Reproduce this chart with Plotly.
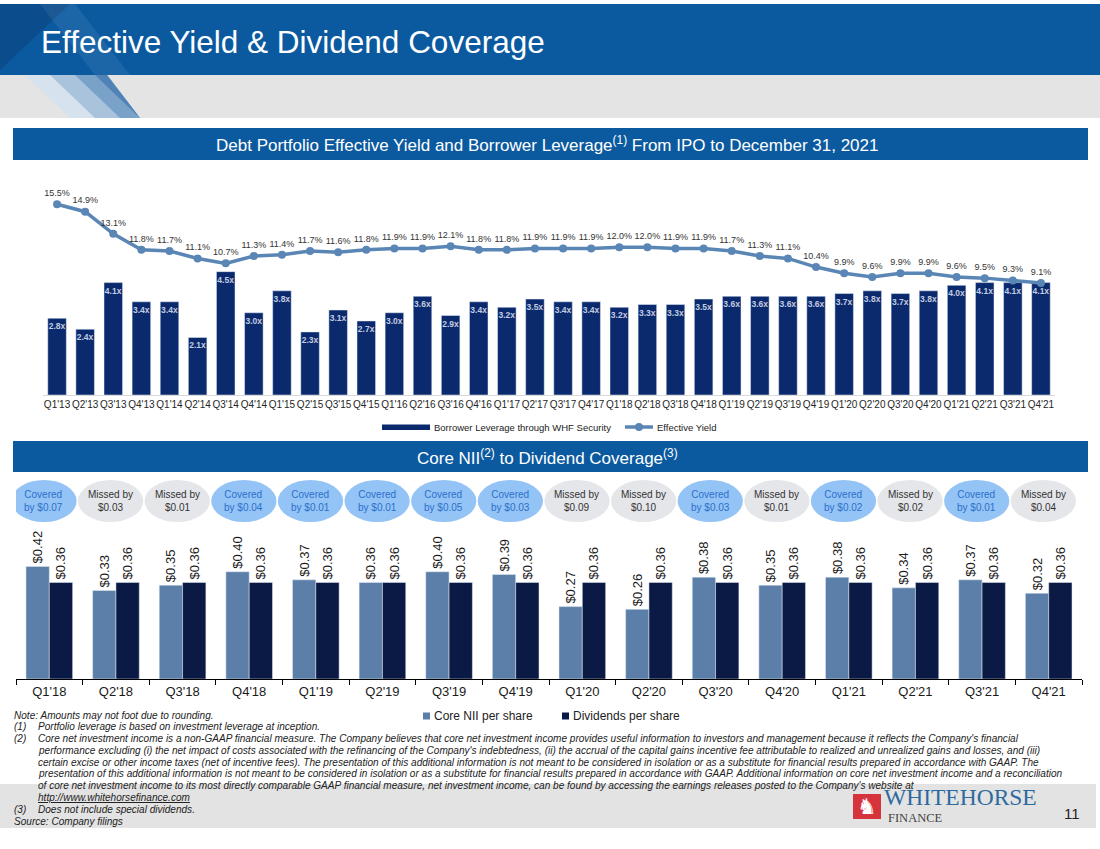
import plotly.graph_objects as go

# ---- data -------------------------------------------------------------
quarters_top = [
    "Q1'13", "Q2'13", "Q3'13", "Q4'13", "Q1'14", "Q2'14", "Q3'14", "Q4'14",
    "Q1'15", "Q2'15", "Q3'15", "Q4'15", "Q1'16", "Q2'16", "Q3'16", "Q4'16",
    "Q1'17", "Q2'17", "Q3'17", "Q4'17", "Q1'18", "Q2'18", "Q3'18", "Q4'18",
    "Q1'19", "Q2'19", "Q3'19", "Q4'19", "Q1'20", "Q2'20", "Q3'20", "Q4'20",
    "Q1'21", "Q2'21", "Q3'21", "Q4'21",
]
borrower_leverage = [
    2.8, 2.4, 4.1, 3.4, 3.4, 2.1, 4.5, 3.0,
    3.8, 2.3, 3.1, 2.7, 3.0, 3.6, 2.9, 3.4,
    3.2, 3.5, 3.4, 3.4, 3.2, 3.3, 3.3, 3.5,
    3.6, 3.6, 3.6, 3.6, 3.7, 3.8, 3.7, 3.8,
    4.0, 4.1, 4.1, 4.1,
]
effective_yield = [
    15.5, 14.9, 13.1, 11.8, 11.7, 11.1, 10.7, 11.3,
    11.4, 11.7, 11.6, 11.8, 11.9, 11.9, 12.1, 11.8,
    11.8, 11.9, 11.9, 11.9, 12.0, 12.0, 11.9, 11.9,
    11.7, 11.3, 11.1, 10.4, 9.9, 9.6, 9.9, 9.9,
    9.6, 9.5, 9.3, 9.1,
]

quarters_bottom = [
    "Q1'18", "Q2'18", "Q3'18", "Q4'18", "Q1'19", "Q2'19", "Q3'19", "Q4'19",
    "Q1'20", "Q2'20", "Q3'20", "Q4'20", "Q1'21", "Q2'21", "Q3'21", "Q4'21",
]
core_nii = [0.42, 0.33, 0.35, 0.40, 0.37, 0.36, 0.40, 0.39,
            0.27, 0.26, 0.38, 0.35, 0.38, 0.34, 0.37, 0.32]
dividends = [0.36, 0.36, 0.36, 0.36, 0.36, 0.36, 0.36, 0.36,
             0.36, 0.36, 0.36, 0.36, 0.36, 0.36, 0.36, 0.36]
coverage_status = ["Covered", "Missed", "Missed", "Covered", "Covered", "Covered",
                   "Covered", "Covered", "Missed", "Missed", "Covered", "Missed",
                   "Covered", "Missed", "Covered", "Missed"]
coverage_amount = ["$0.07", "$0.03", "$0.01", "$0.04", "$0.01", "$0.01",
                   "$0.05", "$0.03", "$0.09", "$0.10", "$0.03", "$0.01",
                   "$0.02", "$0.02", "$0.01", "$0.04"]

footnotes = [
    ("", "Note: Amounts may not foot due to rounding."),
    ("(1)", "Portfolio leverage is based on investment leverage at inception."),
    ("(2)", "Core net investment income is a non-GAAP financial measure. The Company believes that core net investment income provides useful information to investors and management because it reflects the Company's financial"),
    ("", "performance excluding (i) the net impact of costs associated with the refinancing of the Company's indebtedness, (ii) the accrual of the capital gains incentive fee attributable to realized and unrealized gains and losses, and (iii)"),
    ("", "certain excise or other income taxes (net of incentive fees). The presentation of this additional information is not meant to be considered in isolation or as a substitute for financial results prepared in accordance with GAAP. The"),
    ("", "presentation of this additional information is not meant to be considered in isolation or as a substitute for financial results prepared in accordance with GAAP. Additional information on core net investment income and a reconciliation"),
    ("", "of core net investment income to its most directly comparable GAAP financial measure, net investment income, can be found by accessing the earnings releases posted to the Company's website at"),
    ("", "<span style='text-decoration:underline'>http://www.whitehorsefinance.com</span>"),
    ("(3)", "Does not include special dividends."),
    ("", "Source: Company filings"),
]

# ---- styling ----------------------------------------------------------
W, H = 1100, 849
FONT = "Arial, Liberation Sans, sans-serif"
HEADER_BLUE = "#0b5aa0"
NAVY = "#0b2a6e"
LINE_BLUE = "#5a86b6"
NII_BLUE = "#5b7fa8"
DIV_NAVY = "#0a1a44"


def X(px):
    return px / W


def Y(py):
    return 1 - py / H


fig = go.Figure()

# top chart: leverage bars + yield line
fig.add_trace(go.Bar(
    x=quarters_top, y=borrower_leverage, xaxis="x", yaxis="y",
    marker_color=NAVY, width=0.66,
    texttemplate="<b>%{y:.1f}x</b>", textposition="inside", textangle=0,
    insidetextanchor="end", constraintext="none",
    textfont=dict(size=8.5, color="#c3cce0", family=FONT),
    name="Borrower Leverage through WHF Security",
))
fig.add_trace(go.Scatter(
    x=quarters_top, y=effective_yield, xaxis="x", yaxis="y2",
    mode="lines+markers+text", line=dict(color=LINE_BLUE, width=3.5),
    marker=dict(size=8, color=LINE_BLUE),
    texttemplate="%{y:.1f}%", textposition="top center",
    textfont=dict(size=9, color="#333333", family=FONT),
    cliponaxis=False, name="Effective Yield",
))

# bottom chart: core NII vs dividends
fig.add_trace(go.Bar(
    x=quarters_bottom, y=core_nii, xaxis="x3", yaxis="y3",
    marker_color=NII_BLUE, texttemplate="$%{y:.2f}", textposition="outside",
    textangle=-90, constraintext="none", cliponaxis=False,
    textfont=dict(size=13, color="#1a1a1a", family=FONT),
    name="Core NII per share",
))
fig.add_trace(go.Bar(
    x=quarters_bottom, y=dividends, xaxis="x3", yaxis="y3",
    marker_color=DIV_NAVY, texttemplate="$%{y:.2f}", textposition="outside",
    textangle=-90, constraintext="none", cliponaxis=False,
    textfont=dict(size=13, color="#1a1a1a", family=FONT),
    name="Dividends per share",
))

shapes = []
annotations = []

# header bands
shapes.append(dict(type="rect", xref="paper", yref="paper", layer="below",
                   x0=0, x1=1, y0=Y(75), y1=Y(4), fillcolor=HEADER_BLUE, line_width=0))
shapes.append(dict(type="path", xref="paper", yref="paper", layer="below",
                   path=f"M0,{Y(4)} L{X(70)},{Y(4)} L0,{Y(70)} Z",
                   fillcolor="#0a4c8c", line_width=0))
shapes.append(dict(type="path", xref="paper", yref="paper", layer="below",
                   path=f"M{X(40)},{Y(4)} L{X(75)},{Y(4)} L{X(130)},{Y(75)} L{X(95)},{Y(75)} Z",
                   fillcolor="rgba(255,255,255,0.07)", line_width=0))
shapes.append(dict(type="rect", xref="paper", yref="paper", layer="below",
                   x0=0, x1=1, y0=Y(118), y1=Y(75), fillcolor="#e4e4e4", line_width=0))
for x_top, x_bot, col in [(25, 55, "#d6e2ee"), (50, 80, "#a9c3dc"),
                          (75, 105, "#7aa2c9"), (95, 125, "#4f83b8")]:
    shapes.append(dict(type="path", xref="paper", yref="paper", layer="below",
                       path=(f"M{X(x_top)},{Y(75)} L{X(107)},{Y(75)} "
                             f"L{X(140)},{Y(118)} L{X(x_bot + 15)},{Y(118)} Z"),
                       fillcolor=col, line_width=0))
annotations.append(dict(xref="paper", yref="paper", x=X(39), y=Y(42),
                        xanchor="left", yanchor="middle", showarrow=False,
                        text="Effective Yield & Dividend Coverage",
                        font=dict(size=31.5, color="white", family=FONT)))

# section bands
for y0, y1, txt in [
    (128, 160, "Debt Portfolio Effective Yield and Borrower Leverage<sup>(1)</sup> From IPO to December 31, 2021"),
    (441, 472, "Core NII<sup>(2)</sup> to Dividend Coverage<sup>(3)</sup>"),
]:
    shapes.append(dict(type="rect", xref="paper", yref="paper", layer="below",
                       x0=X(13), x1=X(1088), y0=Y(y1), y1=Y(y0),
                       fillcolor=HEADER_BLUE, line_width=0))
    annotations.append(dict(xref="paper", yref="paper", x=X(547), y=Y((y0 + y1) / 2),
                            xanchor="center", yanchor="middle", showarrow=False,
                            text=txt, font=dict(size=17, color="white", family=FONT)))

# top legend
shapes.append(dict(type="rect", xref="paper", yref="paper",
                   x0=X(382), x1=X(430), y0=Y(430), y1=Y(424.5),
                   fillcolor=NAVY, line_width=0))
annotations.append(dict(xref="paper", yref="paper", x=X(432), y=Y(427),
                        xanchor="left", yanchor="middle", showarrow=False,
                        text="Borrower Leverage through WHF Security",
                        font=dict(size=9.5, color="#222222", family=FONT)))
shapes.append(dict(type="line", xref="paper", yref="paper",
                   x0=X(625), x1=X(653), y0=Y(427), y1=Y(427),
                   line=dict(color=LINE_BLUE, width=3.5)))
shapes.append(dict(type="circle", xref="paper", yref="paper",
                   x0=X(635), x1=X(643), y0=Y(431), y1=Y(423),
                   fillcolor=LINE_BLUE, line_width=0))
annotations.append(dict(xref="paper", yref="paper", x=X(655), y=Y(427),
                        xanchor="left", yanchor="middle", showarrow=False,
                        text="Effective Yield",
                        font=dict(size=9.5, color="#222222", family=FONT)))

# coverage ellipses
for i, (status, amt) in enumerate(zip(coverage_status, coverage_amount)):
    covered = status == "Covered"
    fill = "#94c3f5" if covered else "#e5e6ea"
    tcol = "#2a70cc" if covered else "#333333"
    label = f"Covered<br>by {amt}" if covered else f"Missed by<br>{amt}"
    shapes.append(dict(type="circle", xref="x3", yref="paper",
                       x0=i - 0.57, x1=i + 0.41, y0=Y(522), y1=Y(480),
                       fillcolor=fill, line_width=0))
    annotations.append(dict(xref="x3", yref="paper", x=i - 0.08, y=Y(501),
                            xanchor="center", yanchor="middle", showarrow=False,
                            text=label, font=dict(size=10, color=tcol, family=FONT)))

# bottom legend
for x0, col, txt in [(423, NII_BLUE, "Core NII per share"),
                     (562, DIV_NAVY, "Dividends per share")]:
    shapes.append(dict(type="rect", xref="paper", yref="paper",
                       x0=X(x0), x1=X(x0 + 7), y0=Y(719.5), y1=Y(712.5),
                       fillcolor=col, line_width=0))
    annotations.append(dict(xref="paper", yref="paper", x=X(x0 + 9), y=Y(716),
                            xanchor="left", yanchor="middle", showarrow=False,
                            text=txt, font=dict(size=12, color="#222222", family=FONT)))

# footer band, logo, page number
shapes.append(dict(type="rect", xref="paper", yref="paper", layer="below",
                   x0=0, x1=X(1096), y0=Y(828), y1=Y(784),
                   fillcolor="#e3e3e3", line_width=0))
shapes.append(dict(type="rect", xref="paper", yref="paper",
                   x0=X(853), x1=X(881), y0=Y(819), y1=Y(794),
                   fillcolor="#d6343c", line_width=0))
annotations.append(dict(xref="paper", yref="paper", x=X(867), y=Y(806.5),
                        xanchor="center", yanchor="middle", showarrow=False,
                        text="♞", font=dict(size=22, color="white", family="DejaVu Sans")))
annotations.append(dict(xref="paper", yref="paper", x=X(882), y=Y(797),
                        xanchor="left", yanchor="middle", showarrow=False,
                        text="WHITEHORSE",
                        font=dict(size=23.5, color="#2d6aa0", family="Liberation Serif, serif")))
annotations.append(dict(xref="paper", yref="paper", x=X(886), y=Y(818),
                        xanchor="left", yanchor="middle", showarrow=False,
                        text="FINANCE",
                        font=dict(size=12.5, color="#444444", family="Liberation Serif, serif")))
annotations.append(dict(xref="paper", yref="paper", x=X(1072), y=Y(813),
                        xanchor="center", yanchor="middle", showarrow=False,
                        text="11", font=dict(size=15, color="#222222", family=FONT)))

# footnotes
line_y = 715
for num, txt in footnotes:
    if num:
        annotations.append(dict(xref="paper", yref="paper", x=X(12), y=Y(line_y),
                                xanchor="left", yanchor="middle", showarrow=False,
                                text=f"<i>{num}</i>",
                                font=dict(size=10, color="#222222", family=FONT)))
    x_left = 12 if txt.startswith(("Note", "Source")) else 36
    annotations.append(dict(xref="paper", yref="paper", x=X(x_left), y=Y(line_y),
                            xanchor="left", yanchor="middle", showarrow=False,
                            text=f"<i>{txt}</i>",
                            font=dict(size=10.05, color="#222222", family=FONT)))
    line_y += 11.8

fig.update_layout(
    width=W, height=H, margin=dict(l=0, r=0, t=0, b=0),
    paper_bgcolor="white", plot_bgcolor="rgba(0,0,0,0)",
    showlegend=False, barmode="group", bargap=0.3, bargroupgap=0,
    font=dict(family=FONT),
    xaxis=dict(domain=[X(43), X(1055)], type="category", range=[-0.5, 35.5],
               showgrid=False, showline=True, linecolor="#d9d9d9", linewidth=1,
               ticks="", tickangle=0, automargin=False,
               tickfont=dict(size=10, color="#262626"), fixedrange=True),
    yaxis=dict(domain=[Y(395), Y(185)], range=[0, 7.66], visible=False, fixedrange=True),
    yaxis2=dict(overlaying="y", range=[0, 17.07], visible=False, fixedrange=True),
    xaxis3=dict(domain=[X(16), X(1082)], type="category", anchor="y3", range=[-0.5, 15.5],
                showgrid=False, showline=True, linecolor="black", linewidth=1,
                ticks="outside", tickson="boundaries", ticklen=5, tickcolor="black",
                tickangle=0, automargin=False,
                tickfont=dict(size=13, color="#1a1a1a"), fixedrange=True),
    yaxis3=dict(domain=[Y(679), Y(527)], range=[0, 0.567], anchor="x3",
                visible=False, fixedrange=True),
    shapes=shapes, annotations=annotations,
)

fig.write_html("out.html", config={"displayModeBar": False},
               post_script="document.body.style.margin='0';document.body.style.overflow='hidden';")
